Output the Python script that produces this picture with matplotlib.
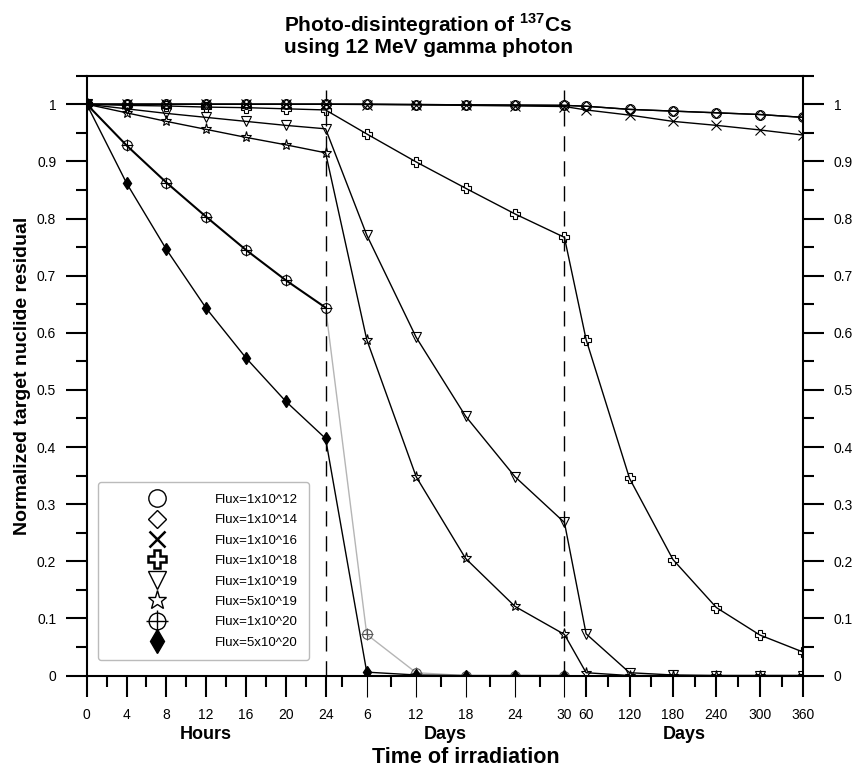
import numpy as np
import matplotlib
matplotlib.use("Agg")
import matplotlib.pyplot as plt
from matplotlib.lines import Line2D
from matplotlib.ticker import FixedLocator, FixedFormatter
from matplotlib import transforms

plt.rcParams['font.family'] = ['Liberation Sans', 'DejaVu Sans']
plt.rcParams['mathtext.fontset'] = 'custom'
plt.rcParams['mathtext.rm'] = 'Liberation Sans'
plt.rcParams['mathtext.bf'] = 'Liberation Sans:bold'

# time points: hours 0-24, then days 6-30, then days 60-360
hours = [0, 4, 8, 12, 16, 20, 24]
days = [6, 12, 18, 24, 30]
days_long = [60, 120, 180, 240, 300, 360]

flux_labels = ['Flux=1x10^12', 'Flux=1x10^14', 'Flux=1x10^16', 'Flux=1x10^18',
               'Flux=1x10^19', 'Flux=5x10^19', 'Flux=1x10^20', 'Flux=5x10^20']

# normalized residuals (hours, days, long days)
flux_1e12 = [1, 1, 1, 1, 1, 1, 1,
             1.0, 0.9995, 0.999, 0.9985, 0.998,
             0.9965, 0.991, 0.988, 0.985, 0.982, 0.977]
flux_1e14 = [1, 1, 1, 1, 1, 1, 1,
             1.0, 0.9995, 0.999, 0.9985, 0.998,
             0.9965, 0.991, 0.988, 0.985, 0.982, 0.977]
flux_1e16 = [1, 1, 1, 1, 1, 1, 1,
             0.9995, 0.999, 0.998, 0.997, 0.996,
             0.990, 0.981, 0.970, 0.963, 0.955, 0.946]
flux_1e18 = [1, 0.998, 0.997, 0.995, 0.994, 0.992, 0.990,
             0.948, 0.899, 0.853, 0.808, 0.767,
             0.588, 0.345, 0.203, 0.119, 0.071, 0.041]
flux_1e19 = [1, 0.992, 0.984, 0.977, 0.970, 0.963, 0.957,
             0.771, 0.592, 0.454, 0.348, 0.268,
             0.073, 0.005, 0.001, 0, 0, 0]
flux_5e19 = [1, 0.985, 0.970, 0.956, 0.942, 0.929, 0.915,
             0.588, 0.348, 0.205, 0.121, 0.072,
             0.005, 0, 0, 0, 0, 0]
flux_1e20 = [1, 0.928, 0.863, 0.803, 0.745, 0.692, 0.644,
             0.072, 0.005, 0, 0, 0]
flux_5e20 = [1, 0.862, 0.746, 0.643, 0.556, 0.480, 0.415,
             0.006, 0.001, 0, 0, 0]

# everything on one time axis in hours, day 1 == 24 h
t_all = hours + [24 * d for d in days] + [24 * d for d in days_long]

fig = plt.figure(figsize=(8.57, 7.69), dpi=100)
ax = fig.add_axes([0.1012, 0.1215, 0.8361, 0.7801])

# three equal-width pieces: 0-24 h, 1-30 d, 30-360 d
seg_h = [0, 24, 720, 8640]
seg_u = [0, 1, 2, 3]
ax.set_xscale('function', functions=(lambda x: np.interp(x, seg_h, seg_u),
                                     lambda u: np.interp(u, seg_u, seg_h)))

mk = dict(color='black', lw=1.0, mfc='none', mec='black', mew=0.8)

ax.plot(t_all, flux_1e12, marker='o', ms=7, **mk)
ax.plot(t_all, flux_1e14, marker='D', ms=5, **mk)
ax.plot(t_all, flux_1e16, marker='x', ms=7, **mk)
ax.plot(t_all, flux_1e18, marker='P', ms=7.5, **mk)
ax.plot(t_all, flux_1e19, marker='v', ms=7.5, **mk)
ax.plot(t_all, flux_5e19, marker='*', ms=8, **mk)

# 1e20: black in the hours part, light grey afterwards
n_h = len(hours)
ax.plot(t_all[n_h - 1:12], flux_1e20[n_h - 1:], color='#b5b5b5', lw=1.0, zorder=1.5)
for m in ['o', '+']:
    ax.plot(t_all[:n_h], flux_1e20[:n_h], marker=m, ms=7 if m == 'o' else 9,
            ls='-' if m == 'o' else 'none', **{k: v for k, v in mk.items() if k != 'lw'})
    ax.plot(t_all[n_h:12], flux_1e20[n_h:], marker=m, ms=7 if m == 'o' else 9,
            ls='none', color='#555555', mfc='none', mec='#555555', mew=0.8)
ax.plot(t_all[:12], flux_5e20, marker='d', ms=6.5, color='black', lw=1.0,
        mfc='black', mec='black')

# dashed separators
ax.vlines([24, 720], 0, 1.025, colors='black', lw=1.0, linestyles=(0, (11, 7)))

ax.set_xlim(0, 8640)
ax.set_ylim(0, 1.05)

x_major = hours + [24 * d for d in days] + [24 * d for d in days_long]
x_labels = [str(h) for h in hours] + [str(d) for d in days] + [str(d) for d in days_long]
x_minor = [2, 6, 10, 14, 18, 22] + [24 * d for d in [3, 9, 15, 21, 27]] + \
          [24 * d for d in [90, 150, 210, 270, 330]]
ax.xaxis.set_major_locator(FixedLocator(x_major))
ax.xaxis.set_major_formatter(FixedFormatter(x_labels))
ax.xaxis.set_minor_locator(FixedLocator(x_minor))

y_major = np.round(np.arange(0, 1.01, 0.1), 2)
ax.set_yticks(y_major)
ax.set_yticklabels(['0'] + ['%.1f' % v for v in y_major[1:-1]] + ['1'])
ax.set_yticks(np.round(np.arange(0.05, 1.06, 0.1), 2), minor=True)

for s in ax.spines.values():
    s.set_linewidth(1.5)
ax.tick_params(axis='x', which='major', length=15, width=1.5, direction='out',
               labelsize=10, pad=8)
ax.tick_params(axis='x', which='minor', length=8, width=1.5, direction='out')
ax.tick_params(axis='y', which='both', left=True, right=True, labelleft=True,
               labelright=True, direction='out')
ax.tick_params(axis='y', which='major', length=15, width=1.5, labelsize=10, pad=7)
ax.tick_params(axis='y', which='minor', length=8, width=1.5)

# the day ticks of the middle piece are thin grey lines
for i, tk in enumerate(ax.xaxis.get_major_ticks()):
    if n_h <= i < n_h + len(days):
        tk.tick1line.set_color('#aaaaaa')
        tk.tick1line.set_markeredgewidth(0.8)

# legend
lk = dict(ls='none', mfc='none', mec='black', mew=1.0)
handles = [Line2D([], [], marker='o', ms=12.5, **lk),
           Line2D([], [], marker='D', ms=9.5, **lk),
           Line2D([], [], marker='x', ms=11, mew=1.8, ls='none', color='black'),
           Line2D([], [], marker='P', ms=13, mew=1.8, ls='none', mfc='none', mec='black'),
           Line2D([], [], marker='v', ms=13, **lk),
           Line2D([], [], marker='*', ms=14, **lk),
           (Line2D([], [], marker='o', ms=12, **lk),
            Line2D([], [], marker='+', ms=16, ls='none', color='black', mew=1.0)),
           Line2D([], [], marker='d', ms=12, ls='none', color='black')]
leg = ax.legend(handles, flux_labels, loc='lower left', bbox_to_anchor=(0.0158, 0.026),
                borderaxespad=0, fontsize=9.5, handlelength=7.2, handletextpad=0.8,
                borderpad=0.85, labelspacing=0.62, numpoints=1, fancybox=True,
                framealpha=1, edgecolor='#bbbbbb')
leg.get_frame().set_linewidth(1.0)

# axis texts
bt = transforms.blended_transform_factory(ax.transAxes, fig.transFigure)
for xc, txt in [(1 / 6, 'Hours'), (3 / 6, 'Days'), (5 / 6, 'Days')]:
    ax.text(xc, 0.0455, txt, transform=bt, ha='center', va='center',
            fontsize=13, fontweight='bold')
fig.text(0.544, 0.0156, 'Time of irradiation', ha='center', va='center',
         fontsize=15.5, fontweight='bold')
fig.text(0.0257, 0.5116, 'Normalized target nuclide residual', rotation=90,
         ha='center', va='center', fontsize=14, fontweight='bold')

fig.text(0.5, 0.968, r'Photo-disintegration of $^{\mathbf{137}}$Cs', ha='center',
         va='center', fontsize=15, fontweight='bold')
fig.text(0.5, 0.938, 'using 12 MeV gamma photon', ha='center', va='center',
         fontsize=15, fontweight='bold')

fig.savefig('out.png', dpi=100)
